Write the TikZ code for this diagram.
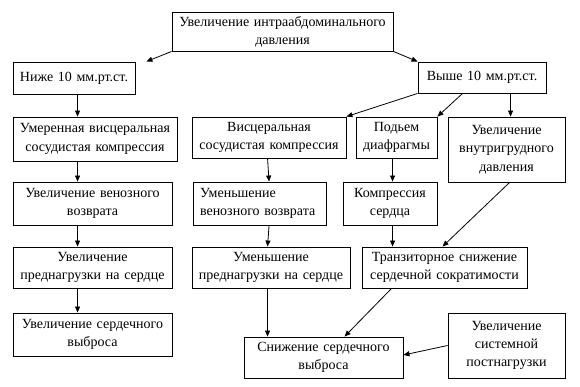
\documentclass[tikz,border=0pt]{standalone}
\usepackage{fontspec}
\setmainfont{Liberation Serif}
\usetikzlibrary{arrows.meta}
\begin{document}
\begin{tikzpicture}[x=1pt,y=1pt,
  box/.style={draw=black,line width=0.9pt,fill=white,inner sep=0pt,align=center,
    font=\fontsize{14}{18.3}\selectfont},
  arr/.style={line width=0.8pt,-{Triangle[length=6pt,width=5pt]}}]
\useasboundingbox (0,0) rectangle (580,386);
% nodes
\node[box,minimum width=221pt,minimum height=39pt,text width=217pt] (top) at (282.5,354.5) {Увеличение интраабдоминального\\давления};
\node[box,minimum width=122pt,minimum height=32pt,text width=118pt] (nizhe) at (74,308) {Ниже 10 мм.рт.ст.};
\node[box,minimum width=128pt,minimum height=31pt,text width=124pt] (vyshe) at (482,308.5) {Выше 10 мм.рт.ст.};
\node[box,minimum width=164pt,minimum height=44pt,text width=160pt] (umer) at (95,247) {Умеренная висцеральная\\сосудистая компрессия};
\node[box,minimum width=154pt,minimum height=41pt,text width=150pt] (visc) at (269,248.5) {Висцеральная\\сосудистая компрессия};
\node[box,minimum width=81pt,minimum height=41pt,text width=78pt] (podem) at (396.5,248.5) {Подьем\\диафрагмы};
\node[box,minimum width=117pt,minimum height=65pt,text width=113pt] (vnutr) at (506.5,236.5) {Увеличение\\внутригрудного\\давления};
\node[box,minimum width=159pt,minimum height=43pt,text width=155pt] (uvven) at (92.5,182.5) {Увеличение венозного\\возврата};
\node[box,minimum width=133pt,minimum height=43pt,text width=120pt,align=left] (umven) at (260,182.5) {Уменьшение\\венозного возврата};
\node[box,minimum width=94pt,minimum height=43pt,text width=90pt] (komp) at (390,182.5) {Компрессия\\сердца};
\node[box,minimum width=159pt,minimum height=41pt,text width=155pt] (uvpred) at (92.5,118.5) {Увеличение\\преднагрузки на сердце};
\node[box,minimum width=158pt,minimum height=41pt,text width=154pt] (umpred) at (271,118.5) {Уменьшение\\преднагрузки на сердце};
\node[box,minimum width=165pt,minimum height=41pt,text width=161pt] (tranz) at (444.5,118.5) {Транзиторное снижение\\сердечной сократимости};
\node[box,minimum width=159pt,minimum height=43pt,text width=155pt] (uvvyb) at (92.5,51.5) {Увеличение сердечного\\выброса};
\node[box,minimum width=159pt,minimum height=41pt,text width=155pt] (snizh) at (323.5,28.5) {Снижение сердечного\\выброса};
\node[box,minimum width=117pt,minimum height=65pt,text width=113pt] (sist) at (506.5,40.5) {Увеличение\\системной\\постнагрузки};
% connectors
\draw[arr] (top.south west) -- ([xshift=11pt]nizhe.north east);
\draw[arr] (top.south east) -- (vyshe.north west);
\draw[arr] (vyshe.south west) -- (visc.north east);
\draw[arr] ([xshift=45pt]vyshe.south west) -- (podem.north east);
\draw[arr] ([xshift=93pt]vyshe.south west) -- ([xshift=63pt]vnutr.north west);
\draw[arr] ([xshift=65pt]nizhe.south west) -- ([xshift=65pt]umer.north west);
\draw[arr] ([xshift=65pt]umer.south west) -- ([xshift=65pt]uvven.north west);
\draw[arr] ([xshift=65pt]uvven.south west) -- ([xshift=65pt]uvpred.north west);
\draw[arr] ([xshift=65pt]uvpred.south west) -- ([xshift=65pt]uvvyb.north west);
\draw[arr] ([xshift=76pt]visc.south west) -- ([xshift=76pt]umven.north west);
\draw[arr] ([xshift=76pt]umven.south west) -- ([xshift=76pt]umpred.north west);
\draw[arr] ([xshift=76pt]umpred.south west) -- ([xshift=24pt]snizh.north west);
\draw[arr] ([xshift=37pt]podem.south west) -- ([xshift=50pt]komp.north west);
\draw[arr] ([xshift=50pt]komp.south west) -- ([xshift=31pt]tranz.north west);
\draw[arr] ([xshift=62pt]vnutr.south west) -- ([xshift=81pt]tranz.north west);
\draw[arr] ([xshift=30pt]tranz.south west) -- ([xshift=101pt]snizh.north west);
\draw[arr] (sist.west) -- ([yshift=2.5pt]snizh.east);
\end{tikzpicture}
\end{document}
